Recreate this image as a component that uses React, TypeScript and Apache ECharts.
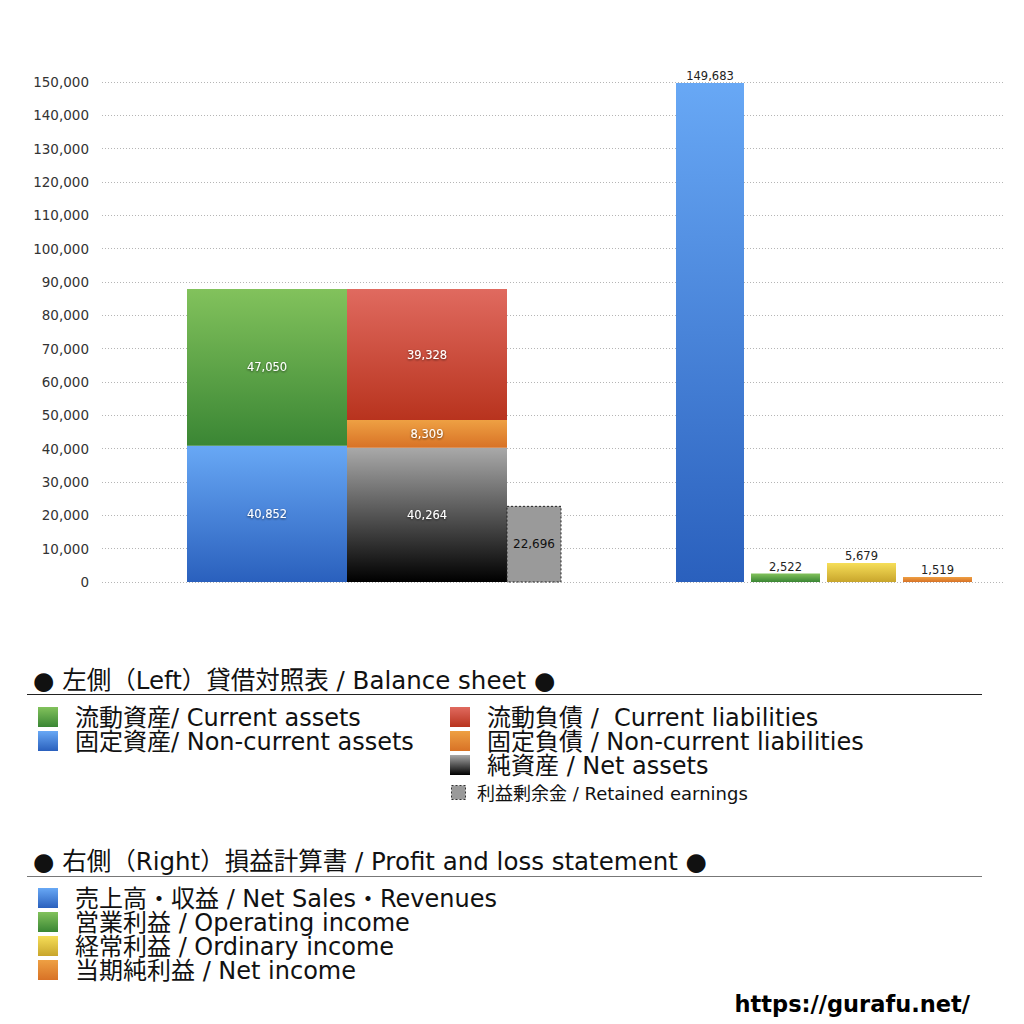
import React, { useEffect, useRef } from "react";
import * as echarts from "echarts";

// ---- data ----
const bsAssetNames = ["固定資産", "流動資産"];
const bsAssetValues = [40852, 47050];
const bsLiabNames = ["純資産", "固定負債", "流動負債"];
const bsLiabValues = [40264, 8309, 39328];
const retainedEarningsValue = [22696];
const plNames = ["売上高・収益", "営業利益", "経常利益", "当期純利益"];
const plValues = [149683, 2522, 5679, 1519];
const yMin = 0;
const yMax = 150000;
const yInterval = 10000;

// ---- layout (x extents in hidden x-axis units = px from grid left) ----
const assetCol = [85, 245];
const liabCol = [245, 405];
const reCol = [405, 459];
const plCols = [
  [574, 642],
  [649, 718],
  [725, 794],
  [801, 870],
];

const FONT = "'DejaVu Sans', 'Noto Sans CJK JP', sans-serif";

const grad = (top: string, bottom: string) =>
  new echarts.graphic.LinearGradient(0, 0, 0, 1, [
    { offset: 0, color: top },
    { offset: 1, color: bottom },
  ]);

const C = {
  blue: ["#68a8f5", "#2a60bd"],
  green: ["#82c25c", "#3a8634"],
  red: ["#e06a5f", "#b8331e"],
  orange: ["#eea043", "#d87226"],
  black: ["#a9a9a9", "#000000"],
  yellow: ["#f6de58", "#c8a52c"],
};

type Bar = {
  x0: number;
  x1: number;
  base: number;
  value: number;
  colors?: string[];
  flat?: string;
  dashed?: boolean;
  labelPos: "inside" | "top";
  labelColor: string;
  labelSize: number;
};

function buildBars(): Bar[] {
  const bars: Bar[] = [];
  const assetColors = [C.blue, C.green];
  let base = 0;
  bsAssetValues.forEach((v, i) => {
    bars.push({ x0: assetCol[0], x1: assetCol[1], base, value: v, colors: assetColors[i], labelPos: "inside", labelColor: "#fff", labelSize: 11.5 });
    base += v;
  });
  const liabColors = [C.black, C.orange, C.red];
  base = 0;
  bsLiabValues.forEach((v, i) => {
    bars.push({ x0: liabCol[0], x1: liabCol[1], base, value: v, colors: liabColors[i], labelPos: "inside", labelColor: "#fff", labelSize: 11.5 });
    base += v;
  });
  bars.push({ x0: reCol[0], x1: reCol[1], base: 0, value: retainedEarningsValue[0], flat: "#9a9a9a", dashed: true, labelPos: "inside", labelColor: "#111", labelSize: 12 });
  const plColors = [C.blue, C.green, C.yellow, C.orange];
  plValues.forEach((v, i) => {
    bars.push({ x0: plCols[i][0], x1: plCols[i][1], base: 0, value: v, colors: plColors[i], labelPos: "top", labelColor: "#222", labelSize: 11.5 });
  });
  return bars;
}

const fmt = (v: number) => v.toLocaleString("en-US");

function legendSquare(x: number, y: number, colors: string[]) {
  return {
    type: "rect",
    shape: { x, y, width: 20, height: 20 },
    style: { fill: grad(colors[0], colors[1]) },
  };
}

function legendText(x: number, y: number, text: string, size = 24, lineHeight = 24) {
  return {
    type: "text",
    x,
    y,
    style: { text, fill: "#111", fontSize: size, lineHeight, fontFamily: FONT, verticalAlign: "middle", align: "left" },
  };
}

export default function App() {
  const ref = useRef<HTMLDivElement>(null);
  useEffect(() => {
    if (!ref.current) return;
    const chart = echarts.init(ref.current, undefined, { renderer: "svg" });
    const bars = buildBars();
    const data = bars.map((b) => [b.x0, b.x1, b.base, b.value]);

    const graphics: any[] = [
      // section 1 header
      legendText(33, 680, "● 左側（Left）貸借対照表 / Balance sheet ●", 24.5, 26),
      { type: "line", shape: { x1: 27, y1: 694.5, x2: 982, y2: 694.5 }, style: { stroke: "#222", lineWidth: 1.2 } },
      legendSquare(38, 707, C.green),
      legendText(75, 718, "流動資産/ Current assets"),
      legendSquare(38, 731, C.blue),
      legendText(75, 742, "固定資産/ Non-current assets"),
      legendSquare(450, 707, C.red),
      legendText(487, 718, "流動負債 /  Current liabilities"),
      legendSquare(450, 731, C.orange),
      legendText(487, 742, "固定負債 / Non-current liabilities"),
      legendSquare(450, 755, C.black),
      legendText(487, 766, "純資産 / Net assets"),
      {
        type: "rect",
        shape: { x: 451.5, y: 785.5, width: 14, height: 14 },
        style: { fill: "#9a9a9a", stroke: "#333", lineWidth: 1, lineDash: [2, 2] },
      },
      legendText(477, 793, "利益剰余金 / Retained earnings", 18, 20),
      // section 2 header
      legendText(33, 861, "● 右側（Right）損益計算書 / Profit and loss statement ●", 24.5, 26),
      { type: "line", shape: { x1: 27, y1: 876.5, x2: 982, y2: 876.5 }, style: { stroke: "#777", lineWidth: 1.2 } },
      legendSquare(38, 888, C.blue),
      legendText(75, 899, "売上高・収益 / Net Sales・Revenues"),
      legendSquare(38, 912, C.green),
      legendText(75, 923, "営業利益 / Operating income"),
      legendSquare(38, 936, C.yellow),
      legendText(75, 947, "経常利益 / Ordinary income"),
      legendSquare(38, 960, C.orange),
      legendText(75, 971, "当期純利益 / Net income"),
      {
        type: "text",
        x: 970,
        y: 1004,
        style: { text: "https://gurafu.net/", fill: "#000", fontSize: 22.5, fontWeight: "bold", fontFamily: FONT, align: "right", verticalAlign: "middle" },
      },
    ];

    chart.setOption({
      animation: false,
      backgroundColor: "#fff",
      grid: { left: 102, right: 19, top: 82, height: 500, containLabel: false },
      xAxis: { type: "value", min: 0, max: 903, show: false },
      yAxis: {
        type: "value",
        min: yMin,
        max: yMax,
        interval: yInterval,
        axisLine: { show: false },
        axisTick: { show: false },
        axisLabel: {
          color: "#333",
          fontSize: 13.5,
          fontFamily: FONT,
          margin: 13,
          formatter: (v: number) => fmt(v),
        },
        splitLine: { show: true, lineStyle: { type: [1, 2], color: "#b5b5b5", width: 1 } },
      },
      series: [
        {
          type: "custom",
          data,
          encode: { x: [0, 1], y: [2, 3] },
          renderItem: (params: any, api: any) => {
            const b = bars[params.dataIndex];
            const x0 = api.value(0);
            const x1 = api.value(1);
            const base = api.value(2);
            const val = api.value(3);
            const pTop = api.coord([x0, base + val]);
            const pBot = api.coord([x1, base]);
            const w = pBot[0] - pTop[0];
            const h = pBot[1] - pTop[1];
            const children: any[] = [];
            children.push({
              type: "rect",
              shape: { x: pTop[0], y: pTop[1], width: w, height: h },
              style: b.dashed
                ? { fill: b.flat, stroke: "#222", lineWidth: 1, lineDash: [2, 2] }
                : { fill: grad(b.colors![0], b.colors![1]) },
            });
            const cx = pTop[0] + w / 2;
            const cy = b.labelPos === "inside" ? pTop[1] + h / 2 : pTop[1] - 7;
            children.push({
              type: "text",
              style: {
                text: fmt(val),
                x: cx,
                y: cy,
                align: "center",
                verticalAlign: "middle",
                fill: b.labelColor,
                fontSize: b.labelSize,
                fontFamily: FONT,
                textShadowColor: b.labelColor === "#fff" ? "rgba(0,0,0,0.6)" : "transparent",
                textShadowBlur: b.labelColor === "#fff" ? 2 : 0,
                textShadowOffsetY: b.labelColor === "#fff" ? 1 : 0,
              },
            });
            return { type: "group", children };
          },
        },
      ],
      graphic: graphics,
    });
    return () => chart.dispose();
  }, []);
  return (
    <div
      ref={ref}
      style={{ position: "absolute", left: 0, top: 0, width: 1024, height: 1024, background: "#fff" }}
    />
  );
}
